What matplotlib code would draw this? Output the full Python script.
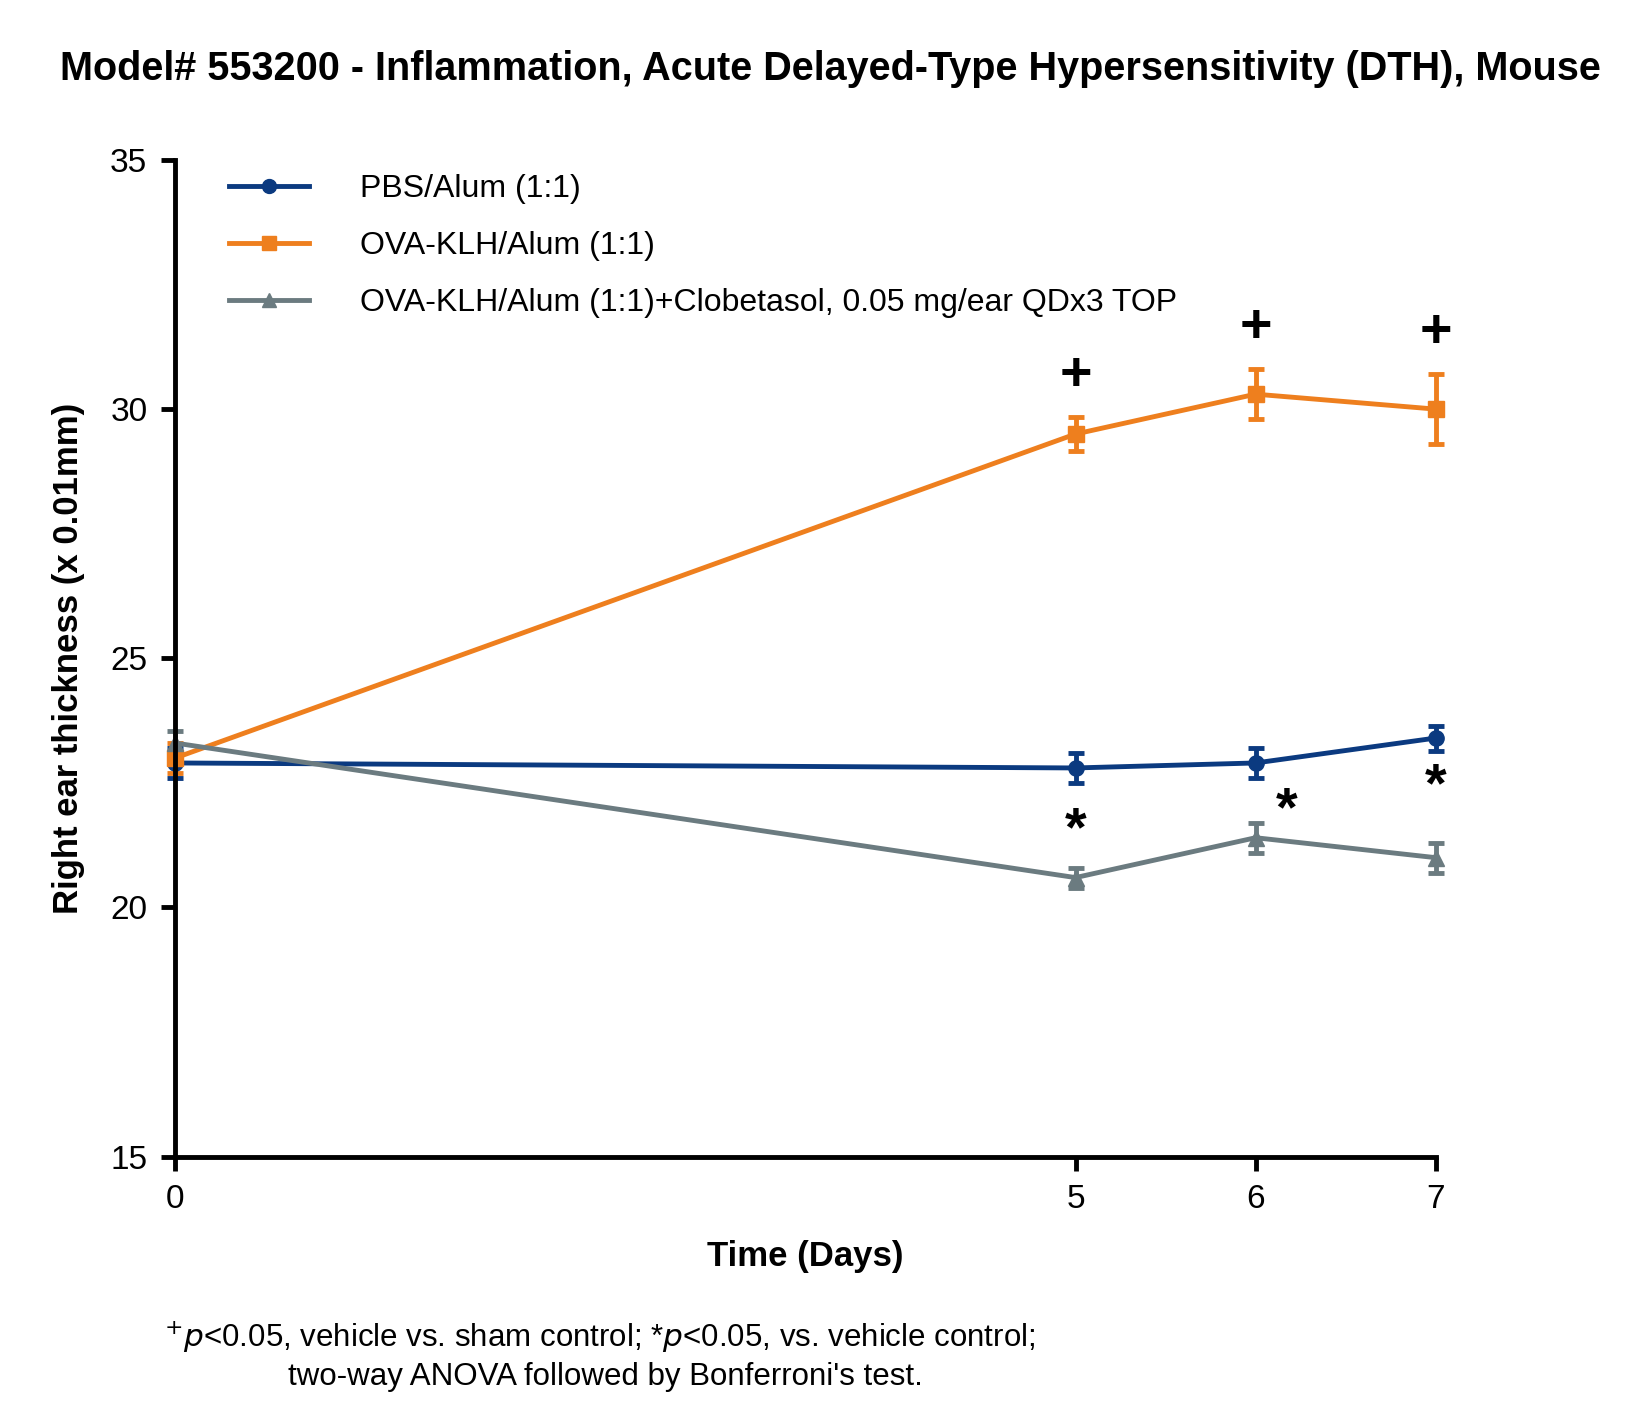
import matplotlib.pyplot as plt
from matplotlib.lines import Line2D

days = [0, 5, 6, 7]
pbs = [22.9, 22.8, 22.9, 23.4]
pbs_err = [0.3, 0.3, 0.3, 0.25]
ova = [23.0, 29.5, 30.3, 30.0]
ova_err = [0.3, 0.35, 0.5, 0.7]
clob = [23.3, 20.6, 21.4, 21.0]
clob_err = [0.25, 0.2, 0.3, 0.3]
labels = ['PBS/Alum (1:1)', 'OVA-KLH/Alum (1:1)',
          'OVA-KLH/Alum (1:1)+Clobetasol, 0.05 mg/ear QDx3 TOP']

plt.rcParams['font.family'] = ['Liberation Sans', 'DejaVu Sans']
fig = plt.figure(figsize=(16.37, 14.28), dpi=100)
ax = fig.add_axes([0.107, 0.19, 0.77, 0.698])

blue, orange, grey = '#0b3a80', '#ee7f1e', '#6b7b80'
kw = dict(lw=3.5, ms=11, capsize=6, elinewidth=3.5, capthick=3.5, clip_on=False)
handles = []
for y, e, c, m in [(pbs, pbs_err, blue, 'o'), (ova, ova_err, orange, 's'), (clob, clob_err, grey, '^')]:
    ax.errorbar(days, y, yerr=e, color=c, marker=m, **kw)
    handles.append(Line2D([], [], color=c, marker=m, lw=3.5, ms=10))

ax.set_xlim(0, 7)
ax.set_ylim(15, 35)
ax.set_xticks(days)
ax.set_yticks([15, 20, 25, 30, 35])
for s in ['top', 'right']:
    ax.spines[s].set_visible(False)
for s in ['left', 'bottom']:
    ax.spines[s].set_linewidth(3.5)
ax.tick_params(width=3.5, length=10, labelsize=24, pad=10)
ax.set_xlabel('Time (Days)', fontsize=25, fontweight='bold', labelpad=18)
ax.set_ylabel('Right ear thickness (x 0.01mm)', fontsize=25, fontweight='bold', labelpad=18)

for x, y, e in zip(days[1:], ova[1:], ova_err[1:]):
    ax.text(x, y + e + 0.3, '+', ha='center', va='bottom', fontsize=40, fontweight='bold')
ax.text(5, 20.6 + 0.4, '*', ha='center', va='bottom', fontsize=40, fontweight='bold')
ax.text(6.17, 21.4 + 0.0, '*', ha='center', va='bottom', fontsize=40, fontweight='bold')
ax.text(7, 21.0 + 0.9, '*', ha='center', va='bottom', fontsize=40, fontweight='bold')

ax.legend(handles, labels, loc='upper left', bbox_to_anchor=(0.02, 1.015), frameon=False, fontsize=23,
          handlelength=2.5, labelspacing=0.85, handletextpad=1.6)

fig.text(0.507, 0.952, 'Model# 553200 - Inflammation, Acute Delayed-Type Hypersensitivity (DTH), Mouse',
         ha='center', va='center', fontsize=28.5, fontweight='bold')
fig.text(0.1, 0.057, r'$^{+}$$\it{p}$<0.05, vehicle vs. sham control; *$\it{p}$<0.05, vs. vehicle control;',
         fontsize=22.5)
fig.text(0.176, 0.03, "two-way ANOVA followed by Bonferroni's test.", fontsize=22.5)

fig.savefig('out.png')
